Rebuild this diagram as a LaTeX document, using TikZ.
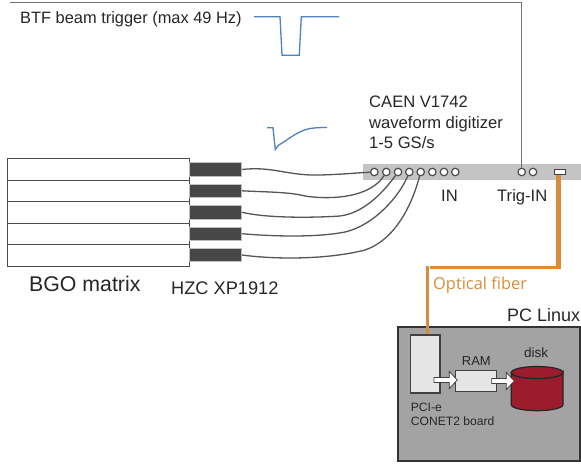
\documentclass[tikz,border=0pt]{standalone}
\usepackage{fontspec}
\setmainfont{Liberation Sans}
\newfontfamily\fiberfont{Open Sans}
\newcommand{\fs}[1]{\fontsize{#1}{#1}\selectfont}
\definecolor{wave}{HTML}{4F81BD}
\definecolor{fiber}{HTML}{D98C3A}
\definecolor{cable}{HTML}{555555}
\definecolor{diskred}{HTML}{9C1C2E}
\begin{document}
\begin{tikzpicture}[x=1pt,y=-1pt,
  lbl/.style={anchor=base west, inner sep=0pt, text=black!85, font=\fs{16.6}},
  crystal/.style={draw=black!70, fill=white, line width=1pt, minimum width=182pt, minimum height=21.4pt, inner sep=0pt},
  pmt/.style={draw=black!25, fill=black!72, line width=0.7pt, minimum width=52pt, minimum height=13.6pt, inner sep=0pt},
  chan/.style={circle, draw=black!70, fill=white, line width=1.2pt, minimum size=7.5pt, inner sep=0pt},
  coax/.style={draw=cable, line width=1.3pt},
  pulse/.style={draw=wave, line width=1.3pt},
  optic/.style={draw=fiber, line width=3.2pt},
  pcbox/.style={draw=black!75, fill=black!10, line width=1.2pt, inner sep=0pt},
  blockarrow/.style={draw=black!75, fill=white, line width=0.8pt,
    to path={([yshift=2.5pt]\tikztostart) -- ([xshift=-8pt,yshift=2.5pt]\tikztotarget)
      -- ([xshift=-8pt,yshift=8.5pt]\tikztotarget) -- (\tikztotarget)
      -- ([xshift=-8pt,yshift=-8.5pt]\tikztotarget) -- ([xshift=-8pt,yshift=-2.5pt]\tikztotarget)
      -- ([yshift=-2.5pt]\tikztostart) -- cycle}},
]
  \useasboundingbox (0,0) rectangle (581,466);
  % digitizer
  \node[fill=black!23, minimum width=218pt, minimum height=16pt, inner sep=0pt] (v1742) at (472,172) {};
  \foreach \n/\x in {1/374.3,2/386.3,3/398,4/409.3,5/420.7,6/432.3,7/444,8/455.3}
    \node[chan] (ch\n) at (\x,172) {};
  \node[chan] (trigin) at (521.7,172) {};
  \node[chan] (trigaux) at (533,172) {};
  \node[draw=black!75, fill=white, line width=1pt, minimum width=11pt, minimum height=5.4pt, inner sep=0pt] (optout) at (560,172) {};
  % matrix and phototubes
  \foreach \n/\y/\yp in {1/169.3/169.5,2/190.8/190.8,3/212.3/212.2,4/233.8/233.7,5/255.3/255}{
    \node[crystal] (bgo\n) at (98,\y) {};
    \node[pmt] (pmt\n) at (215.5,\yp) {};
  }
  % cables
  \draw[coax] (pmt1.east) .. controls (273,166) and (288,176) .. (320,175) .. controls (340,174.5) and (355,173) .. (ch1);
  \draw[coax] (pmt2.east) .. controls (265,192) and (290,192) .. (305,196) .. controls (330,200) and (370,198) .. (ch2);
  \draw[coax] (pmt3.east) .. controls (265,218) and (310,218) .. (340,216) .. controls (365,213) and (385,190) .. (ch3);
  \draw[coax] (pmt4.east) .. controls (280,237) and (320,237) .. (345,232) .. controls (375,225) and (400,195) .. (ch4);
  \draw[coax] (pmt5.east) .. controls (280,260) and (330,259) .. (365,250) .. controls (395,240) and (412,205) .. (ch5);
  \coordinate (trigstart) at (10,2.5);
  \draw[draw=black!55, line width=1.5pt] (trigstart) -- (521.7,2.5) -- (trigin);
  % waveforms
  \draw[pulse] (254,16.7) -- (280,16.7) -- (282,55.3) -- (299.3,55.3) -- (301.3,16.7) -- (339,16.7);
  \draw[pulse] (267,127.7) -- (273,127.7) -- (275.3,149.5) -- (278,145.5) .. controls (288,140) and (297,131) .. (310,128.5) .. controls (316,127.6) and (322,127.5) .. (327,127.5);
  % pc
  \node[draw=black!80, fill=black!36, line width=1.5pt, minimum width=182pt, minimum height=134.3pt, inner sep=0pt] (pc) at (489,393.9) {};
  \node[pcbox, minimum width=29.7pt, minimum height=58pt] (pcie) at (425.2,364) {};
  \node[pcbox, minimum width=41pt, minimum height=20.6pt] (ram) at (476.2,381) {};
  \draw[draw=black!85, fill=diskred, line width=1.2pt] (511.3,372.5) -- (511.3,404.7) arc[start angle=180, end angle=360, x radius=25.85pt, y radius=6pt] -- (563,372.5) arc[start angle=0, end angle=-180, x radius=25.85pt, y radius=6pt] -- cycle;
  \draw[draw=black!85, fill=diskred, line width=1.2pt] (537.15,372.5) ellipse[x radius=25.85pt, y radius=6pt];
  \coordinate (pcieout) at (434,380);
  \coordinate (ramin) at (457.3,380);
  \coordinate (ramout) at (491.7,381);
  \coordinate (diskin) at (514.3,381);
  \draw[blockarrow] (pcieout) to (ramin);
  \draw[blockarrow] (ramout) to (diskin);
  % fiber
  \coordinate (fiberbend) at (558.3,267.5);
  \draw[optic, line width=4.6pt] (optout.south -| fiberbend) -- (fiberbend);
  \draw[optic] (560.6,267.5) -- (430,267.5);
  \coordinate (fiberend) at (427.7,266);
  \draw[optic, line width=2.6pt] (fiberend) -- (pcie.north -| fiberend);
  % labels
  \node[lbl, font=\fs{16.4}] (trigtxt) at (20,23) {BTF beam trigger (max 49 Hz)};
  \node[lbl] (caen) at (369,107.3) {CAEN V1742};
  \node[lbl] (caenb) at (369,128) {waveform digitizer};
  \node[lbl] (caenc) at (369,148.7) {1-5 GS/s};
  \node[lbl] (intxt) at (441,201) {IN};
  \node[lbl] (trigintxt) at (497,201) {Trig-IN};
  \node[lbl, font=\fs{21.3}] (bgotxt) at (29,291.7) {BGO matrix};
  \node[lbl, font=\fs{18.2}] (hzctxt) at (171,294) {HZC XP1912};
  \node[lbl, text=fiber, font=\fiberfont\fs{16.4}] (fibertxt) at (433,289) {Optical fiber};
  \node[lbl, font=\fs{18}] (pctxt) at (507,321.7) {PC Linux};
  \node[lbl, font=\fs{13}] (ramtxt) at (461.7,365) {RAM};
  \node[lbl, font=\fs{13.5}] (disktxt) at (524,357.7) {disk};
  \node[lbl, font=\fs{12.1}] (pcitxt) at (410.7,411.7) {PCI-e};
  \node[lbl, font=\fs{12.1}] (conet) at (410.7,425.7) {CONET2 board};
\end{tikzpicture}
\end{document}
